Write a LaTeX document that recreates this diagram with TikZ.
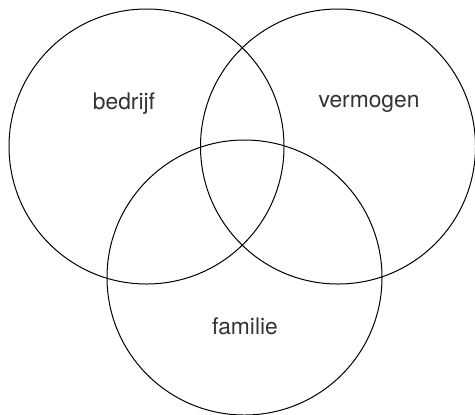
\documentclass[tikz,border=0pt]{standalone}
\usepackage{fontspec}
\setmainfont{TeX Gyre Heros}
\usepackage{tikz}
\usepackage{xcolor}

\begin{document}
\begin{tikzpicture}[x=0.5pt,y=-0.5pt,line width=0.5pt,
  set/.style={draw=black,circle,minimum size=137.5pt,inner sep=0pt},
  setlabel/.style={text=black!80,font=\fontsize{11.4}{13}\selectfont}]
\useasboundingbox (0,0) rectangle (475,414);
\node[set] (bedrijf) at (146.5,146.5) {};
\node[set] (vermogen) at (338,146.5) {};
\node[set] (familie) at (244.5,277.5) {};
\node[setlabel] (lbedrijf) at (124,104) {bedrijf};
\node[setlabel] (lvermogen) at (369,104) {vermogen};
\node[setlabel] (lfamilie) at (245,326) {familie};
\end{tikzpicture}
\end{document}
